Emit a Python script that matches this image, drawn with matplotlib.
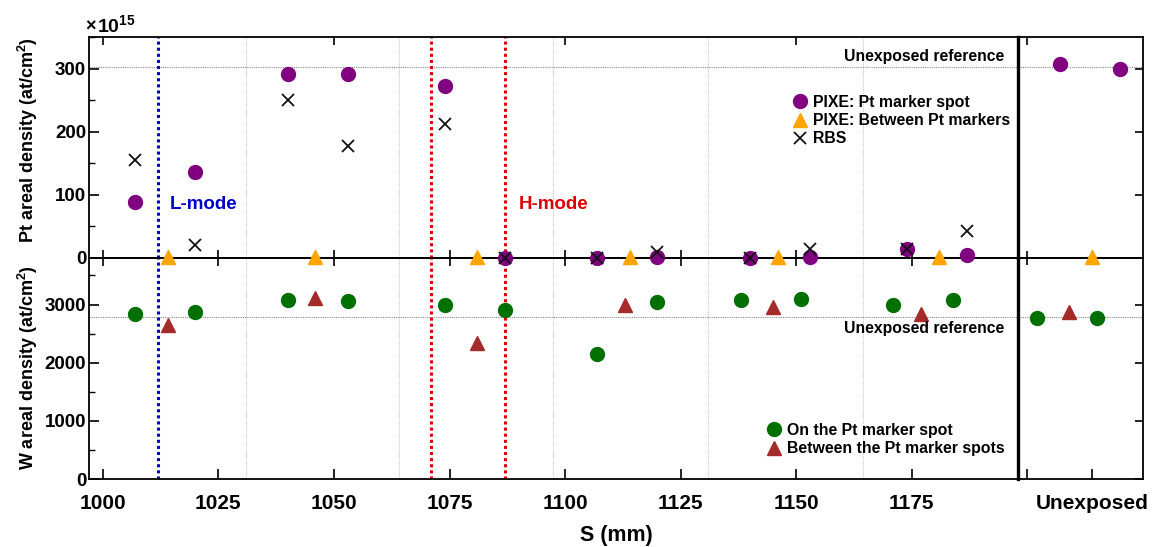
import matplotlib.pyplot as plt
from matplotlib.ticker import MultipleLocator

plt.rcParams['font.family'] = ['Liberation Sans', 'DejaVu Sans']
plt.rcParams['font.weight'] = 'bold'
plt.rcParams['mathtext.fontset'] = 'custom'
plt.rcParams['mathtext.rm'] = 'Liberation Sans'
plt.rcParams['mathtext.bf'] = 'Liberation Sans:bold'

# Pt areal density (1e15 at/cm2) along S (mm)
s_pt_spot = [1007, 1020, 1040, 1053, 1074, 1087, 1107, 1120, 1140, 1153, 1174, 1187]
pt_pixe_spot = [89, 136, 291, 291, 272, 0, 0, 2, 0, 1, 14, 5]
pt_rbs = [155, 20, 251, 177, 212, 0, 0, 9, 0, 15, 14, 43]
s_pt_between = [1014, 1046, 1081, 1114, 1146, 1181]
pt_pixe_between = [2, 2, 2, 2, 2, 2]

# W areal density (1e15 at/cm2)
s_w_spot = [1007, 1020, 1040, 1053, 1074, 1087, 1107, 1120, 1138, 1151, 1171, 1184]
w_spot = [2840, 2867, 3074, 3064, 2995, 2902, 2155, 3046, 3086, 3098, 3000, 3074]
s_w_between = [1014, 1046, 1081, 1113, 1145, 1177]
w_between = [2655, 3115, 2340, 3000, 2960, 2840]

# unexposed samples (placed right of the exposed range)
u_pt_spot_x = [1207, 1220]
u_pt_spot = [308, 300]
u_pt_between_x = [1214]
u_pt_between = [1]
u_w_spot_x = [1202, 1215]
u_w_spot = [2770, 2760]
u_w_between_x = [1209]
u_w_between = [2867]

pt_reference = 303
w_reference = 2780
lmode_edge = [1012]
hmode_edges = [1071, 1087]
tile_edges = [1031, 1064, 1097.5, 1131, 1164.5]
x_ticks = [1000, 1025, 1050, 1075, 1100, 1125, 1150, 1175]

purple = '#800080'
orange = '#ffa500'
green = '#007000'
brown = '#a52a2a'

fig = plt.figure(figsize=(11.53, 5.47), dpi=100)
W, H = 1153, 547
L, M, R = 89 / W, 1018 / W, 1143 / W
T, C, B = 1 - 37 / H, 1 - 258 / H, 1 - 479 / H
ax_w = fig.add_axes([L, B, M - L, C - B])
ax_pt = fig.add_axes([L, C, M - L, T - C])
ax_wu = fig.add_axes([M, B, R - M, C - B])
ax_ptu = fig.add_axes([M, C, R - M, T - C])
# let markers sitting on the zero line show over the lower panels
for ax in (ax_w, ax_pt, ax_wu, ax_ptu):
    ax.patch.set_visible(False)
ax_pt.set_zorder(3)
ax_ptu.set_zorder(3)

for ax in (ax_pt, ax_w, ax_ptu, ax_wu):
    for sp in ax.spines.values():
        sp.set_linewidth(1.3)
for ax in (ax_ptu, ax_wu):
    ax.spines['left'].set_linewidth(2.4)

# limits
ax_pt.set_xlim(997, 1198)
ax_w.set_xlim(997, 1198)
ax_ptu.set_xlim(1198, 1225)
ax_wu.set_xlim(1198, 1225)
ax_pt.set_ylim(0, 350)
ax_ptu.set_ylim(0, 350)
ax_w.set_ylim(0, 3800)
ax_wu.set_ylim(0, 3800)

# background lines
for ax in (ax_pt, ax_w):
    for x in tile_edges:
        ax.axvline(x, color='#c8c8c8', lw=0.8, ls=(0, (1, 1)), zorder=0)
    for x in lmode_edge:
        ax.axvline(x, color='#0000cc', lw=2.2, ls=(0, (1, 1)), zorder=1)
    for x in hmode_edges:
        ax.axvline(x, color='#dd0000', lw=2.2, ls=(0, (1, 1)), zorder=1)
for ax in (ax_pt, ax_ptu):
    ax.axhline(pt_reference, color='#888888', lw=0.8, ls=(0, (1, 1)), zorder=0)
for ax in (ax_w, ax_wu):
    ax.axhline(w_reference, color='#888888', lw=0.8, ls=(0, (1, 1)), zorder=0)

# Pt data
mk = dict(ls='none', clip_on=False, zorder=3)
ax_pt.plot(s_pt_spot, pt_pixe_spot, 'o', color=purple, ms=10, label='PIXE: Pt marker spot', **mk)
ax_pt.plot(s_pt_between, pt_pixe_between, '^', color=orange, ms=10, label='PIXE: Between Pt markers', **mk)
ax_pt.plot(s_pt_spot, pt_rbs, 'x', color='#111111', ms=9, mew=1.3, label='RBS', **mk)
ax_ptu.plot(u_pt_spot_x, u_pt_spot, 'o', color=purple, ms=10, **mk)
ax_ptu.plot(u_pt_between_x, u_pt_between, '^', color=orange, ms=10, **mk)

# W data
ax_w.plot(s_w_spot, w_spot, 'o', color=green, ms=10, label='On the Pt marker spot', **mk)
ax_w.plot(s_w_between, w_between, '^', color=brown, ms=10, label='Between the Pt marker spots', **mk)
ax_wu.plot(u_w_spot_x, u_w_spot, 'o', color=green, ms=10, **mk)
ax_wu.plot(u_w_between_x, u_w_between, '^', color=brown, ms=10, **mk)

# ticks
ax_pt.set_xticks(x_ticks)
ax_pt.tick_params(axis='x', bottom=True, top=False, direction='inout', length=12, width=1.2, labelbottom=False)
top_ax = ax_pt.secondary_xaxis('top')
top_ax.set_xticks([1000, 1050, 1100, 1150])
top_ax.tick_params(direction='in', length=6, width=1.2, labeltop=False)
top_ax.spines['top'].set_visible(False)

ax_w.set_xticks(x_ticks)
ax_w.tick_params(axis='x', bottom=True, top=False, direction='in', length=7, width=1.2,
                 labelsize=15, pad=11)

ax_pt.yaxis.set_major_locator(MultipleLocator(100))
ax_pt.yaxis.set_minor_locator(MultipleLocator(50))
ax_w.yaxis.set_major_locator(MultipleLocator(1000))
ax_w.yaxis.set_minor_locator(MultipleLocator(500))
for ax in (ax_pt, ax_w):
    ax.tick_params(axis='y', which='major', direction='in', length=7, width=1.2,
                   left=True, right=False, labelsize=13.5, pad=2)
    ax.tick_params(axis='y', which='minor', direction='in', length=4, width=1.0, left=True, right=False)
ax_w.set_yticks([0, 1000, 2000, 3000])

for ax, step in ((ax_ptu, 100), (ax_wu, 1000)):
    ax.yaxis.set_major_locator(MultipleLocator(step))
    ax.tick_params(axis='y', direction='in', length=6, width=1.2, left=False, right=True,
                   labelleft=False, labelright=False)
ax_ptu.set_xticks([1200, 1214])
ax_ptu.tick_params(axis='x', direction='inout', length=10, width=1.2, bottom=True, top=False, labelbottom=False)
top_u = ax_ptu.secondary_xaxis('top')
top_u.set_xticks([1200])
top_u.tick_params(direction='in', length=6, width=1.2, labeltop=False)
top_u.spines['top'].set_visible(False)
ax_wu.set_xticks([1200, 1214])
ax_wu.set_xticklabels(['', 'Unexposed'])
ax_wu.tick_params(axis='x', direction='in', length=7, width=1.2, bottom=True, top=False,
                  labelsize=15, pad=11)

# text
ax_pt.text(1014.5, 84, 'L-mode', color='#0000cc', fontsize=13.5, va='center', ha='left')
ax_pt.text(1090, 84, 'H-mode', color='#dd0000', fontsize=13.5, va='center', ha='left')
ax_pt.text(1195, 308, 'Unexposed reference', fontsize=11.3, ha='right', va='bottom')
ax_w.text(1195, 2720, 'Unexposed reference', fontsize=11.3, ha='right', va='top')

fig.text(85 / W, 1 - 25 / H, r'$\times$', fontsize=13, fontweight='normal', ha='left', va='center')
fig.text(97 / W, 1 - 25 / H, r'$\mathbf{10^{15}}$', fontsize=14, ha='left', va='center')
fig.text(28 / W, 1 - 140 / H, r'Pt areal density (at/cm$^\mathbf{2}$)', rotation=90,
         fontsize=13, ha='center', va='center')
fig.text(28 / W, 1 - 368 / H, r'W areal density (at/cm$^\mathbf{2}$)', rotation=90,
         fontsize=13, ha='center', va='center')
fig.text(616 / W, 1 - 536 / H, 'S (mm)', fontsize=15.5, ha='center', va='center')

# legends
ax_pt.legend(loc='upper left', bbox_to_anchor=(792 / W, 1 - 95 / H), bbox_transform=fig.transFigure,
             frameon=False, fontsize=11.4, handlelength=1.0, handletextpad=0.3, labelspacing=0.2,
             borderpad=0, borderaxespad=0, markerscale=1.0)
ax_w.legend(loc='upper left', bbox_to_anchor=(766 / W, 1 - 423 / H), bbox_transform=fig.transFigure,
            frameon=False, fontsize=11.4, handlelength=1.0, handletextpad=0.3, labelspacing=0.2,
            borderpad=0, borderaxespad=0, markerscale=1.0)

fig.savefig('out.png', dpi=100)
